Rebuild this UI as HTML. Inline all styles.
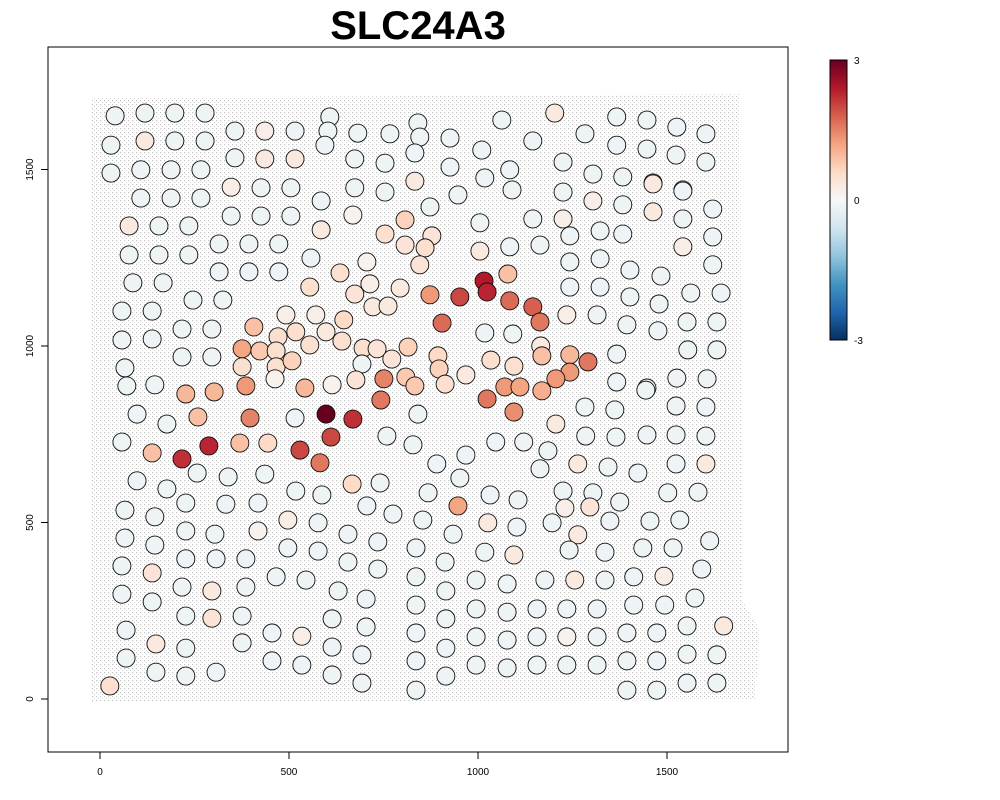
<!DOCTYPE html>
<html><head><meta charset="utf-8"><style>
html,body{margin:0;padding:0;background:#fff;}
svg{display:block;font-family:"Liberation Sans",Arial,sans-serif;}
</style></head><body>
<svg id="chart" width="1000" height="800" viewBox="0 0 1000 800">
<defs>
<pattern id="dots" width="4" height="4" patternUnits="userSpaceOnUse">
<rect x="0" y="0" width="1.2" height="1.2" fill="#c4c4c4"/>
<rect x="2" y="2" width="1" height="1" fill="#d2d2d2"/>
</pattern>
<linearGradient id="cbgrad" x1="0" y1="1" x2="0" y2="0">
<stop offset="0" stop-color="#053061"/><stop offset="0.1" stop-color="#2166ac"/><stop offset="0.2" stop-color="#4393c3"/><stop offset="0.3" stop-color="#92c5de"/><stop offset="0.4" stop-color="#d1e5f0"/><stop offset="0.5" stop-color="#f7f7f7"/><stop offset="0.6" stop-color="#fddbc7"/><stop offset="0.7" stop-color="#f4a582"/><stop offset="0.8" stop-color="#d6604d"/><stop offset="0.9" stop-color="#b2182b"/><stop offset="1" stop-color="#67001f"/>
</linearGradient>
</defs>
<text x="418" y="39" text-anchor="middle" font-size="40" font-weight="bold">SLC24A3</text>
<path d="M92,98 L740,94 L742,600 L760,630 L755,700 L92,702 Z" fill="url(#dots)"/>
<g id="spots"></g>
<rect x="48" y="47" width="740" height="705" fill="none" stroke="#000" stroke-width="1"/>
<g id="axes"></g>
<rect x="830" y="60" width="17" height="280" fill="url(#cbgrad)" stroke="#000" stroke-width="1"/>
<g font-size="10">
<text x="854" y="64">3</text>
<text x="854" y="204">0</text>
<text x="854" y="344">-3</text>
</g>
</svg>
<script>
const xTicks=[0,500,1000,1500];
const yTicks=[0,500,1000,1500];
const spotX=[40,119,198,278,608,841,1203,1367,1447,1526,1603,
29,119,198,278,357,436,516,603,682,767,846,926,1063,1145,1283,1367,1447,1524,1603,
29,108,188,267,357,436,516,595,674,754,833,926,1010,1084,1225,1304,1383,1463,1542,
108,188,267,347,426,505,585,674,754,833,873,947,1018,1090,1225,1304,1383,1463,1542,1621,
77,156,235,347,426,505,585,669,807,754,878,860,1005,1145,1225,1243,1323,1383,1463,1542,1621,
77,156,235,315,394,473,558,635,706,807,846,1005,1084,1164,1243,1323,1402,1484,1542,1621,
87,167,315,394,473,555,674,714,794,873,952,1016,1024,1084,1145,1164,1079,1243,1323,1402,1479,1563,1643,
58,138,246,325,492,571,645,722,762,905,1235,1315,1394,1553,1632,
58,138,217,296,407,518,598,640,696,733,815,1018,1092,1166,1169,1243,1291,1367,1476,1555,1632,
66,217,296,376,423,376,471,466,466,508,555,693,772,894,897,968,1034,1095,1243,1206,1367,1447,1526,1606,
71,145,227,302,386,463,542,614,677,751,809,833,913,1024,1071,1111,1169,1283,1362,1444,1524,1603,
98,177,259,397,516,598,669,611,743,841,1095,1206,1285,1365,1447,1524,1603,
58,138,217,288,370,444,529,582,759,828,891,968,1047,1121,1185,1164,1264,1344,1423,1524,1603,
98,177,257,339,436,667,741,868,952,1032,1106,1225,1304,1375,1502,1582,
66,145,227,333,418,518,587,706,775,947,854,1026,1103,1196,1230,1296,1264,1349,1455,1534,497,
66,145,227,304,418,577,656,735,836,934,1018,1095,1241,1336,1436,1516,1613,
58,138,227,307,386,497,577,656,735,836,913,995,1077,1177,1256,1336,1412,1492,1592,
58,138,217,296,386,466,545,630,704,836,915,995,1077,1156,1235,1315,1412,1494,1574,
69,148,227,296,376,455,534,614,704,836,915,995,1077,1156,1235,1315,1394,1473,1553,1650,
69,227,376,455,534,614,693,836,915,995,1077,1156,1235,1315,1394,1473,1553,1632,
26,148,227,307,614,693,836,915,1394,1473,1553,1632];
const spotY=[1652,1660,1660,1660,1649,1632,1660,1649,1640,1620,1601,
1569,1581,1581,1581,1609,1609,1609,1609,1603,1601,1592,1589,1640,1581,1601,1569,1558,1541,1521,
1490,1499,1499,1499,1533,1530,1530,1569,1530,1518,1547,1507,1555,1499,1521,1487,1479,1462,1442,
1419,1419,1419,1450,1448,1448,1411,1448,1436,1467,1394,1428,1476,1442,1436,1411,1400,1459,1439,1388,
1340,1340,1340,1368,1368,1368,1329,1371,1357,1317,1312,1278,1349,1360,1360,1312,1326,1317,1380,1360,1309,
1258,1258,1258,1289,1289,1289,1249,1207,1238,1286,1230,1269,1281,1286,1238,1247,1215,1198,1281,1230,
1179,1179,1210,1210,1210,1167,1147,1176,1164,1145,1139,1184,1153,1128,1111,1068,1204,1167,1167,1139,1119,1150,1150,
1099,1099,1130,1130,1088,1088,1074,1111,1113,1065,1088,1088,1060,1068,1068,
1017,1020,1048,1048,1054,1040,1040,1014,994,992,997,1037,1034,1000,972,975,955,977,1043,989,989,
938,969,969,992,986,941,1026,986,941,958,1003,949,963,972,935,918,960,943,926,907,898,881,909,907,
887,890,864,870,887,907,881,890,904,907,912,887,892,850,884,884,873,827,819,875,830,827,
807,779,799,796,796,807,793,742,847,807,813,779,745,742,748,748,745,
728,697,680,717,725,725,705,669,745,720,666,691,728,728,703,652,666,657,640,666,666,
618,595,640,629,637,609,612,584,626,578,564,589,584,558,584,586,
535,516,555,552,555,589,578,547,524,547,507,499,487,499,541,544,465,504,504,507,507,
456,436,476,467,476,499,467,445,428,467,416,408,422,416,428,428,448,
377,357,397,397,397,428,419,388,368,346,388,337,326,337,337,337,346,348,368,
297,275,317,306,317,346,337,306,283,266,306,255,246,255,255,255,266,266,286,
195,156,235,229,235,187,178,227,204,187,227,176,167,176,176,176,187,187,207,207,
116,144,159,108,96,147,125,108,144,96,88,96,96,96,108,108,127,125,
37,76,65,76,68,45,25,65,25,25,45,45];
const spotV=[-.15,-.15,-.15,-.15,-.15,-.15,.3,-.15,-.15,-.15,-.15,
-.15,.3,-.15,-.15,-.15,.2,-.15,-.15,-.15,-.15,-.15,-.15,-.15,-.15,-.15,-.15,-.15,-.15,-.15,
-.15,-.15,-.15,-.15,-.15,.3,.3,-.15,-.15,-.15,-.15,-.15,-.15,-.15,-.15,-.15,-.15,-.15,-.15,
-.15,-.15,-.15,.2,-.15,-.15,-.15,-.15,-.15,.3,-.15,-.15,-.15,-.15,-.15,.2,-.15,.3,-.15,-.15,
.3,-.15,-.15,-.15,-.15,-.15,.3,.1,.7,.5,.4,.5,-.15,-.15,.2,-.15,-.15,-.15,.3,-.15,-.15,
-.15,-.15,-.15,-.15,-.15,-.15,-.15,.5,.1,.4,.4,.3,-.15,-.15,-.15,-.15,-.15,-.15,.2,-.15,
-.15,-.15,-.15,-.15,-.15,.5,.4,.2,.3,1.3,2.0,2.4,2.3,1.7,1.8,1.6,.9,-.15,-.15,-.15,-.15,-.15,-.15,
-.15,-.15,-.15,-.15,.2,.2,.6,.3,.3,1.7,.2,-.15,-.15,-.15,-.15,
-.15,-.15,-.15,-.15,.9,.5,.3,.5,.5,.4,.7,-.15,-.15,.3,.9,1.0,1.6,-.15,-.15,-.15,-.15,
-.15,-.15,-.15,1.2,.8,.5,.5,.5,.5,.7,.5,-.15,.4,.6,.7,.3,.5,.5,1.3,1.3,-.15,-.15,-.15,-.15,
-.15,-.15,1.0,1.0,1.3,.1,1.0,.1,.4,1.5,.8,.8,.5,1.6,1.3,1.2,1.1,-.15,-.15,-.15,-.15,-.15,
-.15,-.15,.9,1.5,-.15,3.0,2.2,2.0,1.6,-.15,1.4,.3,-.15,-.15,-.15,-.15,-.15,
-.15,.9,2.2,2.3,.9,.6,2.0,1.6,-.15,-.15,-.15,-.15,-.15,-.15,-.15,-.15,.3,-.15,-.15,-.15,.3,
-.15,-.15,-.15,-.15,-.15,.6,-.15,-.15,-.15,-.15,-.15,-.15,-.15,-.15,-.15,-.15,
-.15,-.15,-.15,-.15,-.15,-.15,-.15,-.15,-.15,1.2,-.15,.3,-.15,-.15,.2,.4,.3,-.15,-.15,-.15,.2,
-.15,-.15,-.15,-.15,.1,-.15,-.15,-.15,-.15,-.15,-.15,.3,-.15,-.15,-.15,-.15,-.15,
-.15,.4,-.15,-.15,-.15,-.15,-.15,-.15,-.15,-.15,-.15,-.15,-.15,-.15,.3,-.15,-.15,.2,-.15,
-.15,-.15,-.15,.3,-.15,-.15,-.15,-.15,-.15,-.15,-.15,-.15,-.15,-.15,-.15,-.15,-.15,-.15,-.15,
-.15,.3,-.15,.4,-.15,-.15,.2,-.15,-.15,-.15,-.15,-.15,-.15,-.15,.1,-.15,-.15,-.15,-.15,.3,
-.15,-.15,-.15,-.15,-.15,-.15,-.15,-.15,-.15,-.15,-.15,-.15,-.15,-.15,-.15,-.15,-.15,-.15,
.5,-.15,-.15,-.15,-.15,-.15,-.15,-.15,-.15,-.15,-.15,-.15];

const NS='http://www.w3.org/2000/svg';
function xScale(v){return 100+v*0.378;}
function yScale(v){return 699-v*0.353;}
const pal=['#053061','#2166ac','#4393c3','#92c5de','#d1e5f0','#f7f7f7','#fddbc7','#f4a582','#d6604d','#b2182b','#67001f'];
function hex(c){return [parseInt(c.slice(1,3),16),parseInt(c.slice(3,5),16),parseInt(c.slice(5,7),16)];}
function colorOf(v){
  let t=(Math.max(-3,Math.min(3,v))+3)/0.6;
  let i=Math.min(9,Math.floor(t)),f=t-i;
  const a=hex(pal[i]),b=hex(pal[i+1]);
  return 'rgb('+a.map((c,k)=>Math.round(c+(b[k]-c)*f)).join(',')+')';
}
const g=document.getElementById('spots');
const n=Math.min(spotX.length,spotY.length,spotV.length);
for(let i=0;i<n;i++){
  const c=document.createElementNS(NS,'circle');
  c.setAttribute('cx',xScale(spotX[i]));
  c.setAttribute('cy',yScale(spotY[i]));
  c.setAttribute('r',9);
  c.setAttribute('fill',colorOf(spotV[i]));
  c.setAttribute('stroke','#111');
  c.setAttribute('stroke-width','0.9');
  
  
  g.appendChild(c);
}
const ax=document.getElementById('axes');
xTicks.forEach(t=>{
  const l=document.createElementNS(NS,'line');
  l.setAttribute('x1',xScale(t));l.setAttribute('x2',xScale(t));
  l.setAttribute('y1',752);l.setAttribute('y2',759);
  l.setAttribute('stroke','#000');
  
  
  ax.appendChild(l);
  const tx=document.createElementNS(NS,'text');
  tx.setAttribute('x',xScale(t));tx.setAttribute('y',775);
  tx.setAttribute('text-anchor','middle');tx.setAttribute('font-size','10');
  tx.textContent=t;
  
  
  ax.appendChild(tx);
});
yTicks.forEach(t=>{
  const l=document.createElementNS(NS,'line');
  l.setAttribute('x1',41);l.setAttribute('x2',48);
  l.setAttribute('y1',yScale(t));l.setAttribute('y2',yScale(t));
  l.setAttribute('stroke','#000');
  
  
  ax.appendChild(l);
  const tx=document.createElementNS(NS,'text');
  const y=yScale(t);
  tx.setAttribute('x',33);tx.setAttribute('y',y);
  tx.setAttribute('text-anchor','middle');tx.setAttribute('font-size','10');
  tx.setAttribute('transform','rotate(-90 33 '+y+')');
  tx.textContent=t;
  
  
  ax.appendChild(tx);
});
</script>
</body></html>
